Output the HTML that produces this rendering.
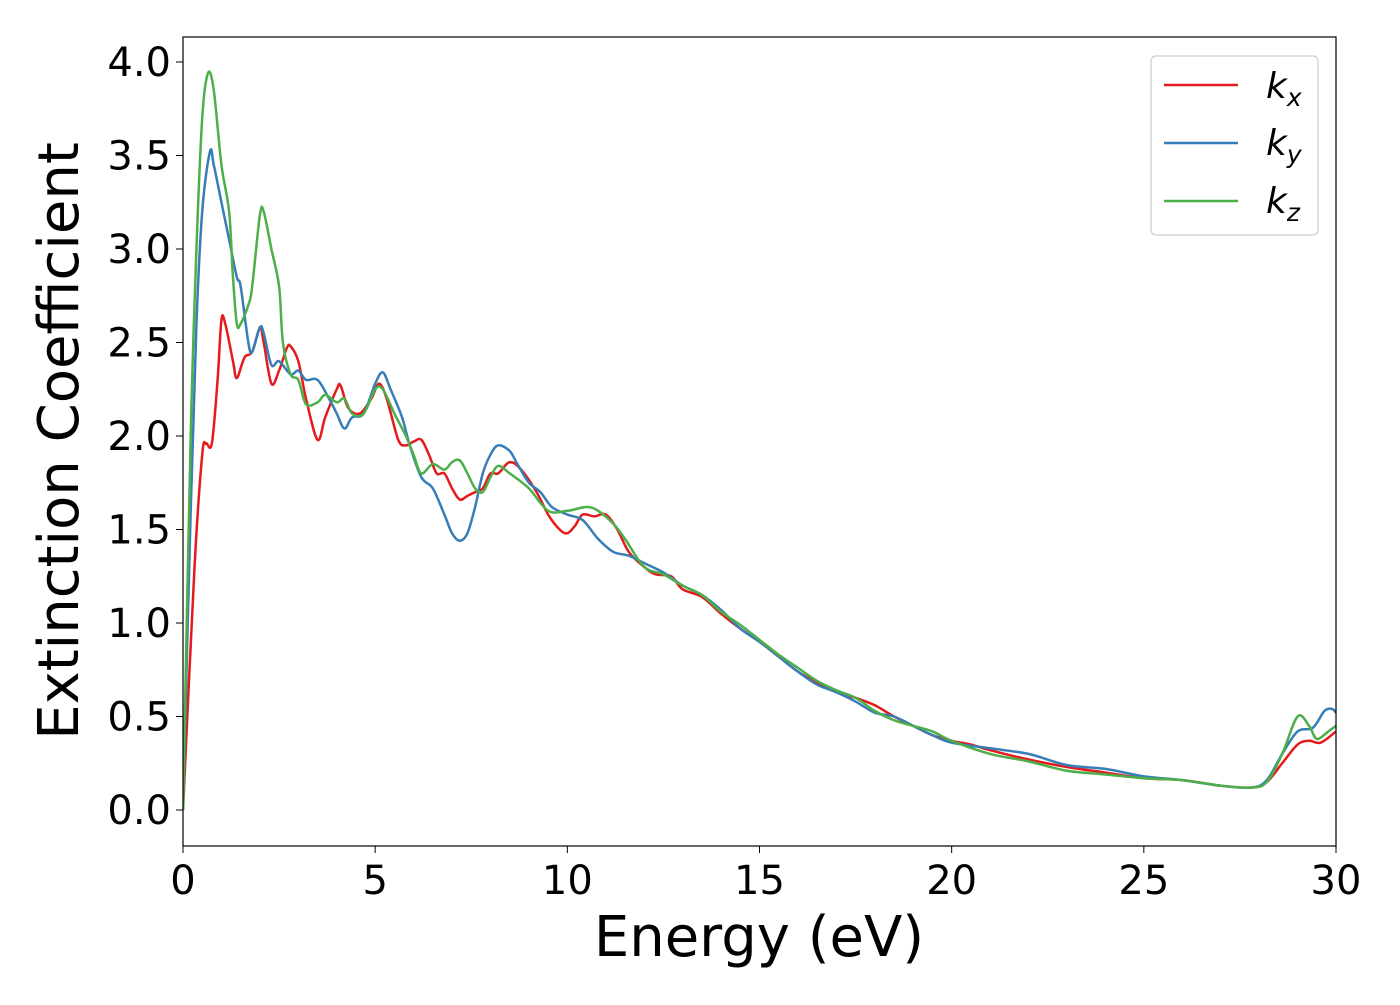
<!DOCTYPE html>
<html><head><meta charset="utf-8"><style>
body{margin:0;background:#fff;}
svg{font-family:"DejaVu Sans","Liberation Sans",sans-serif;}
</style></head><body>
<svg id="chart" width="1400" height="1000" xmlns="http://www.w3.org/2000/svg">
<g id="series"></g>
<rect x="183" y="37" width="1153" height="809" fill="none" stroke="#000" stroke-width="1.2"/>
<g id="axes"></g>
<text x="759" y="956" font-size="56" text-anchor="middle">Energy (eV)</text>
<text transform="translate(78,441) rotate(-90)" font-size="56" text-anchor="middle">Extinction Coefficient</text>
<g>
<rect x="1151" y="56" width="167" height="179" rx="5" fill="#fff" stroke="#ccc" stroke-width="1.2"/>
<line x1="1164" y1="85" x2="1238" y2="85" stroke="#e41a1c" stroke-width="2.5"/>
<text x="1266" y="98" font-size="36" font-style="italic">k<tspan font-size="25" dy="8">x</tspan></text>
<line x1="1164" y1="143" x2="1238" y2="143" stroke="#377eb8" stroke-width="2.5"/>
<text x="1266" y="155" font-size="36" font-style="italic">k<tspan font-size="25" dy="8">y</tspan></text>
<line x1="1164" y1="201" x2="1238" y2="201" stroke="#4daf4a" stroke-width="2.5"/>
<text x="1266" y="213" font-size="36" font-style="italic">k<tspan font-size="25" dy="8">z</tspan></text>
</g>
</svg>
<script>
const xTicks=[0,5,10,15,20,25,30];
const yTicks=[0,0.5,1,1.5,2,2.5,3,3.5,4];
const kxE=[0,0.3,0.5,0.6,0.75,0.9,1.0,1.1,1.3,1.4,1.6,1.8,2.0,2.1,2.3,2.5,2.7,2.8,3.0,3.2,3.5,3.7,4.0,4.1,4.3,4.6,4.9,5.1,5.3,5.6,5.8,6.0,6.2,6.4,6.6,6.8,7.0,7.2,7.4,7.6,7.8,8.0,8.2,8.5,8.8,9.2,9.5,9.8,10,10.2,10.4,10.7,11,11.3,11.6,12,12.3,12.7,13,13.5,14,14.5,15,15.5,16,16.5,17,17.5,18,18.5,19,19.5,20,20.5,21,22,23,24,25,26,27,27.8,28.2,28.6,29,29.3,29.6,30];
const kxV=[0,1.3,1.9,1.96,1.96,2.3,2.62,2.6,2.4,2.31,2.42,2.45,2.58,2.5,2.28,2.35,2.47,2.48,2.4,2.2,1.98,2.1,2.25,2.27,2.15,2.12,2.2,2.28,2.2,1.98,1.95,1.97,1.98,1.9,1.8,1.8,1.72,1.66,1.68,1.7,1.72,1.8,1.8,1.86,1.82,1.7,1.58,1.5,1.48,1.52,1.58,1.57,1.58,1.5,1.38,1.3,1.26,1.25,1.18,1.14,1.05,0.97,0.9,0.82,0.74,0.68,0.63,0.6,0.56,0.5,0.45,0.4,0.37,0.35,0.32,0.27,0.23,0.2,0.17,0.16,0.13,0.12,0.15,0.25,0.35,0.37,0.36,0.42];
const kyE=[0,0.2,0.35,0.5,0.7,0.8,1.0,1.2,1.4,1.5,1.7,1.8,2.0,2.1,2.3,2.5,2.8,3.0,3.2,3.5,3.8,4.0,4.2,4.4,4.7,5.0,5.2,5.4,5.7,5.9,6.2,6.5,6.8,7.0,7.2,7.4,7.6,7.8,8.0,8.2,8.5,8.7,9.0,9.3,9.6,10,10.4,10.8,11.2,11.6,12,12.5,13,13.5,14,14.5,15,15.5,16,16.5,17,17.5,18,18.5,19,19.5,20,21,22,23,24,25,26,27,27.8,28.2,28.6,29,29.4,29.7,29.9,30];
const kyV=[0,1.6,2.6,3.2,3.52,3.45,3.25,3.05,2.85,2.8,2.5,2.45,2.58,2.55,2.38,2.4,2.33,2.35,2.3,2.3,2.2,2.12,2.04,2.1,2.12,2.28,2.34,2.25,2.1,1.95,1.78,1.72,1.58,1.48,1.44,1.48,1.62,1.8,1.9,1.95,1.92,1.85,1.75,1.7,1.62,1.58,1.55,1.45,1.38,1.36,1.32,1.27,1.2,1.15,1.07,0.97,0.9,0.82,0.74,0.67,0.63,0.58,0.52,0.5,0.45,0.4,0.36,0.33,0.3,0.24,0.22,0.18,0.16,0.13,0.12,0.16,0.3,0.42,0.44,0.53,0.54,0.52];
const kzE=[0,0.2,0.35,0.5,0.65,0.8,1.0,1.2,1.3,1.4,1.5,1.7,1.8,2.0,2.1,2.3,2.5,2.6,2.8,3.0,3.2,3.5,3.7,4.0,4.2,4.4,4.7,5.0,5.2,5.5,5.8,6.0,6.2,6.5,6.8,7.0,7.2,7.4,7.6,7.8,8.0,8.2,8.5,9.0,9.5,10,10.5,10.8,11.2,11.5,12,12.5,13,13.5,14,14.5,15,15.5,16,16.5,17,17.5,18,18.5,19,19.5,20,21,22,23,24,25,26,27,27.8,28.2,28.6,29,29.3,29.5,29.8,30];
const kzV=[0,2.0,3.0,3.7,3.94,3.85,3.45,3.2,2.85,2.6,2.6,2.7,2.8,3.18,3.2,3.0,2.8,2.5,2.33,2.3,2.17,2.18,2.22,2.18,2.2,2.12,2.12,2.25,2.25,2.12,2.0,1.9,1.8,1.85,1.82,1.86,1.87,1.8,1.72,1.7,1.78,1.84,1.8,1.72,1.6,1.6,1.62,1.6,1.53,1.45,1.3,1.26,1.2,1.15,1.06,0.99,0.91,0.83,0.76,0.69,0.64,0.6,0.53,0.48,0.45,0.42,0.37,0.3,0.26,0.21,0.19,0.17,0.16,0.13,0.12,0.15,0.3,0.5,0.45,0.38,0.42,0.45];
const NS="http://www.w3.org/2000/svg";
const X=v=>183+v*(1153/30), Y=v=>810-v*187;
function path(E,V){
  const p=E.map((e,i)=>[X(e),Y(V[i])]);
  let d="M"+p[0][0]+","+p[0][1];
  for(let i=0;i<p.length-1;i++){
    const p0=p[Math.max(0,i-1)],p1=p[i],p2=p[i+1],p3=p[Math.min(p.length-1,i+2)];
    const c1=[p1[0]+(p2[0]-p0[0])/6,p1[1]+(p2[1]-p0[1])/6];
    const c2=[p2[0]-(p3[0]-p1[0])/6,p2[1]-(p3[1]-p1[1])/6];
    d+=" C"+c1+" "+c2+" "+p2;
  }
  return d;
}
const sg=document.getElementById('series');
const cp=document.createElementNS(NS,'clipPath');cp.id='clip';
const cr=document.createElementNS(NS,'rect');
cr.setAttribute('x',183);cr.setAttribute('y',37);cr.setAttribute('width',1153);cr.setAttribute('height',809);
cp.appendChild(cr);document.getElementById('chart').appendChild(cp);
sg.setAttribute('clip-path','url(#clip)');
[[kxE,kxV,'#e41a1c','kx'],[kyE,kyV,'#377eb8','ky'],[kzE,kzV,'#4daf4a','kz']].forEach(s=>{
  const el=document.createElementNS(NS,'path');
  el.setAttribute('d',path(s[0],s[1]));
  el.setAttribute('fill','none');el.setAttribute('stroke',s[2]);el.setAttribute('stroke-width','2.5');
  
  
  sg.appendChild(el);
});
const ax=document.getElementById('axes');
xTicks.forEach(t=>{
  const l=document.createElementNS(NS,'line');
  l.setAttribute('x1',X(t));l.setAttribute('x2',X(t));l.setAttribute('y1',846);l.setAttribute('y2',853);l.setAttribute('stroke','#000');
  
  
  ax.appendChild(l);
  const tx=document.createElementNS(NS,'text');
  tx.setAttribute('x',X(t));tx.setAttribute('y',894);tx.setAttribute('font-size','40');tx.setAttribute('text-anchor','middle');
  tx.textContent=t;
  
  
  ax.appendChild(tx);
});
yTicks.forEach(t=>{
  const l=document.createElementNS(NS,'line');
  l.setAttribute('x1',176);l.setAttribute('x2',183);l.setAttribute('y1',Y(t));l.setAttribute('y2',Y(t));l.setAttribute('stroke','#000');
  
  
  ax.appendChild(l);
  const tx=document.createElementNS(NS,'text');
  tx.setAttribute('x',171);tx.setAttribute('y',Y(t)+14);tx.setAttribute('font-size','40');tx.setAttribute('text-anchor','end');
  tx.textContent=t.toFixed(1);
  
  
  ax.appendChild(tx);
});
</script>
</body></html>
